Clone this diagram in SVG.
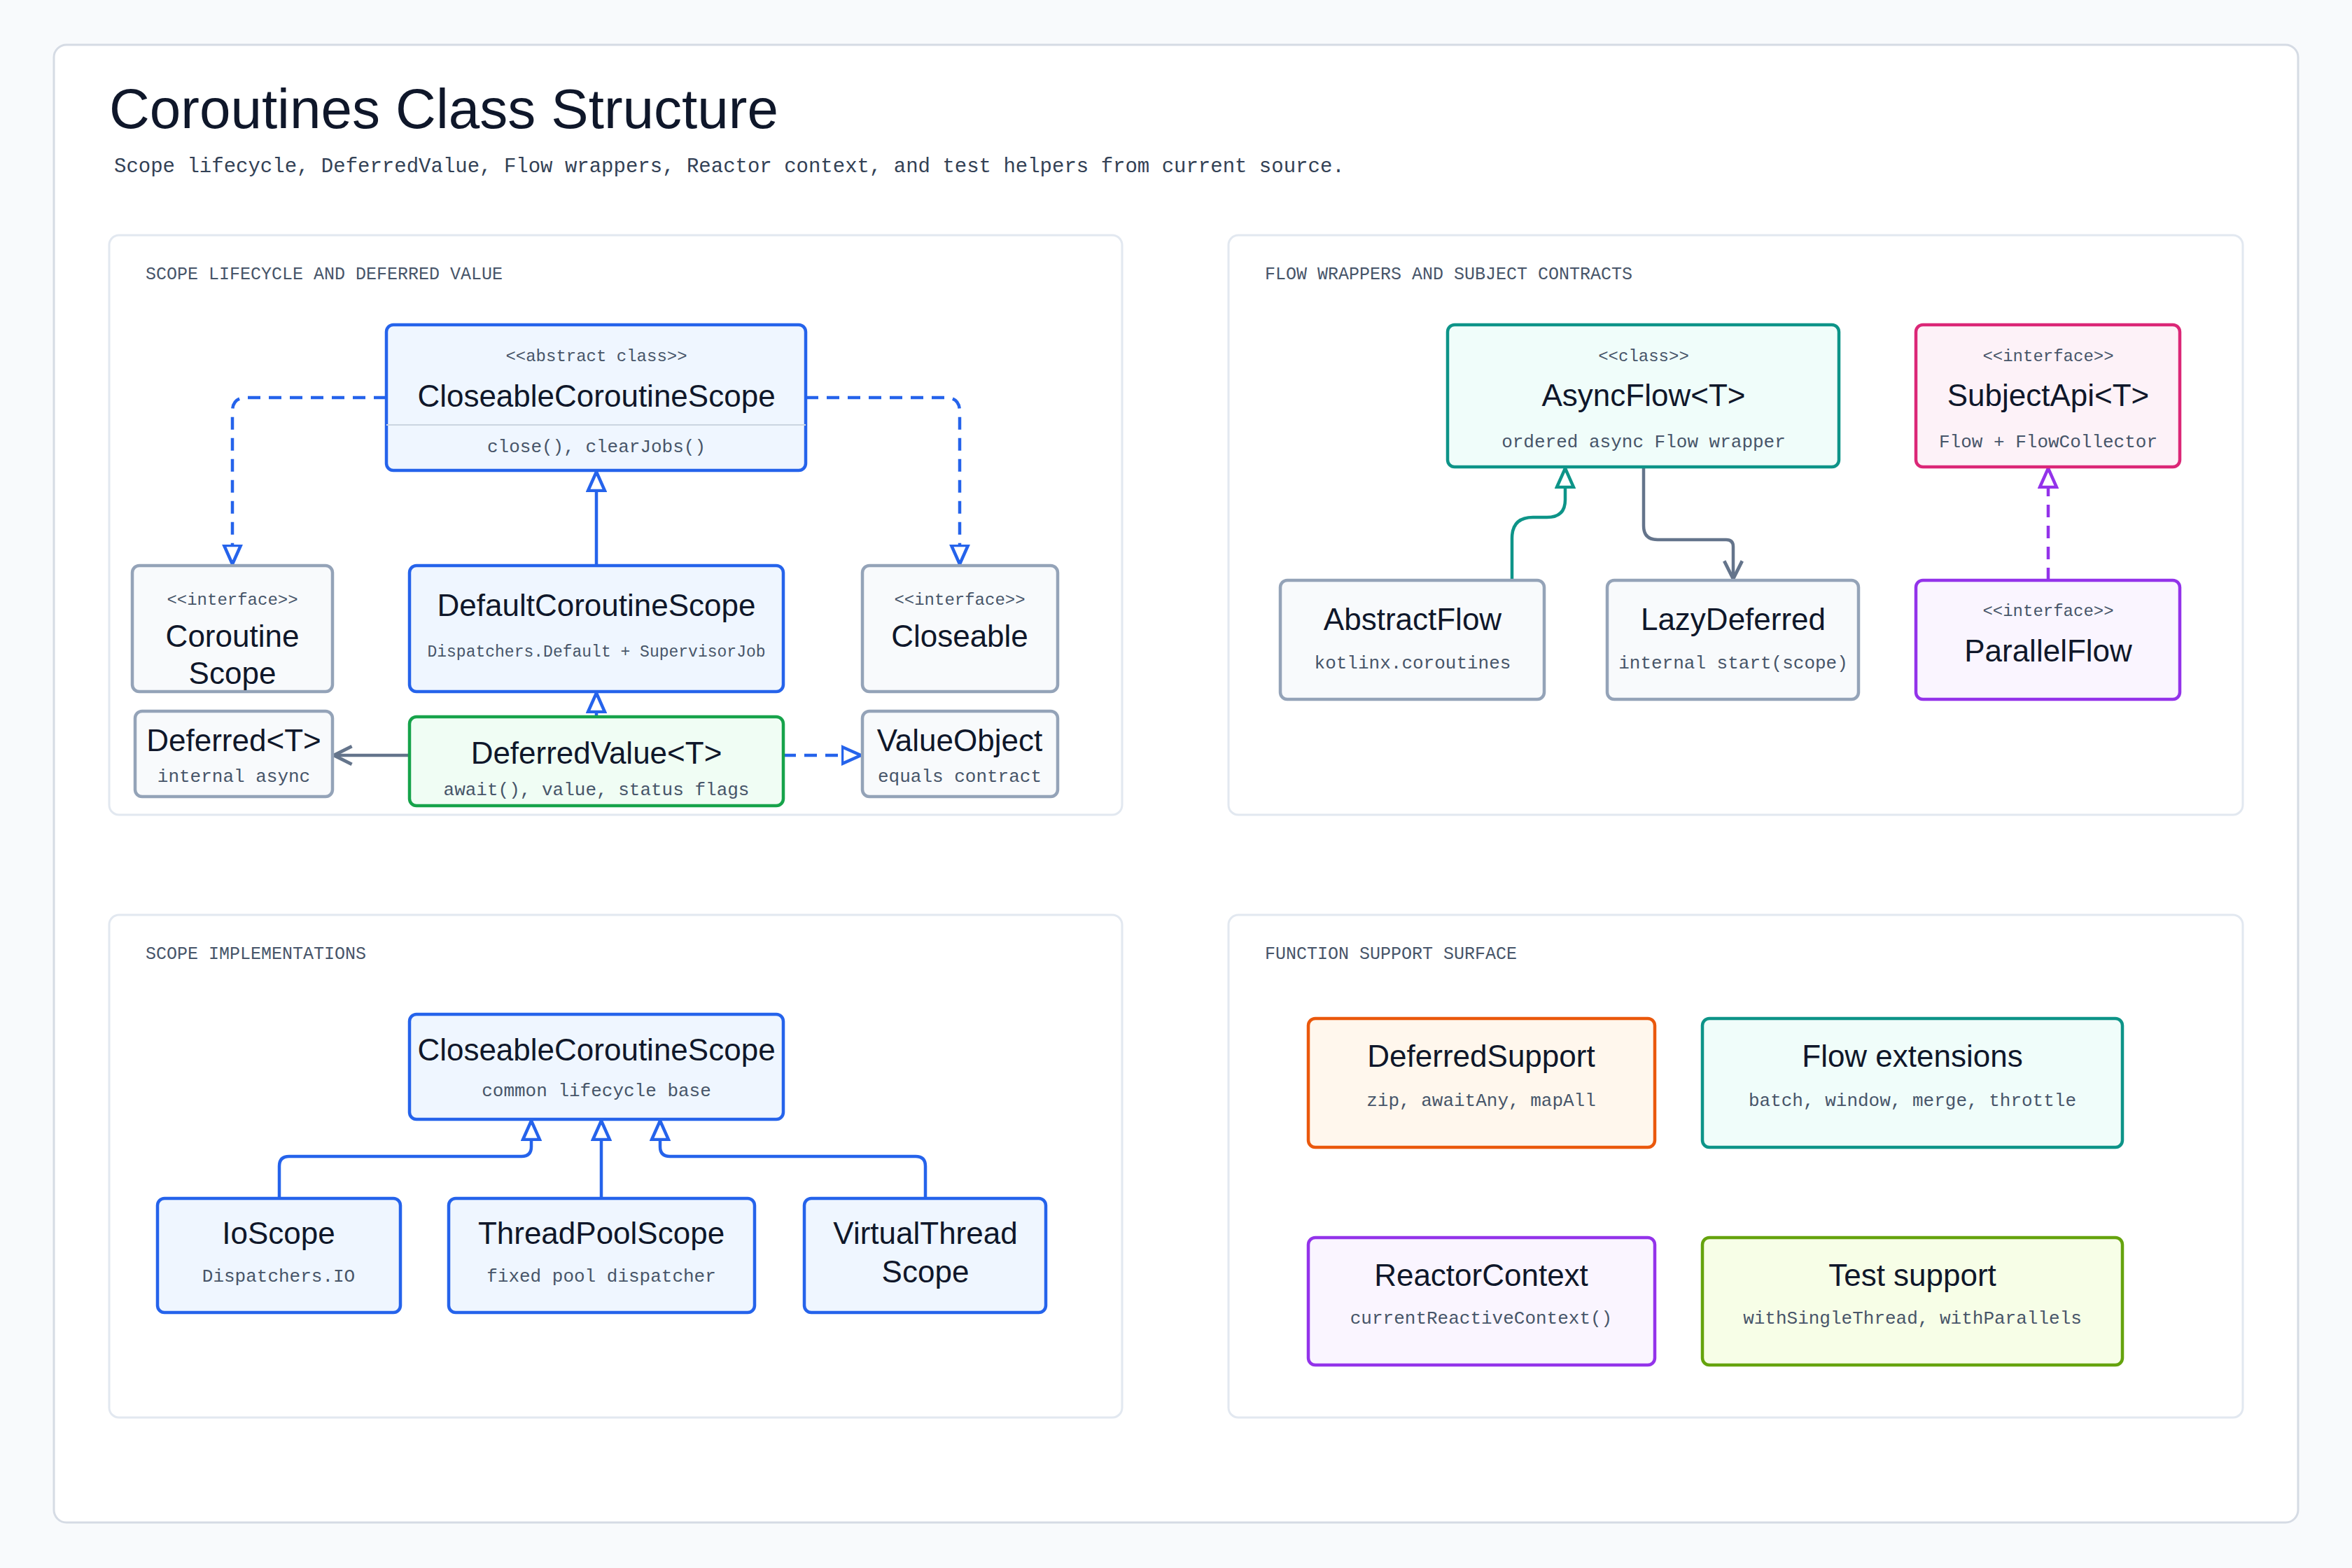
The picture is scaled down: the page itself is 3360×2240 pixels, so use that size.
<svg xmlns="http://www.w3.org/2000/svg" width="3360" height="2240" viewBox="0 0 3360 2240">
<style>
.bg{fill:#f8fafc}
.frame{fill:#fff;stroke:#d5dbe4;stroke-width:3}
.panel{fill:#fff;stroke:#e2e8f0;stroke-width:3}
.title{font-family:"Liberation Sans",sans-serif;font-size:80px;fill:#0f172a}
.subtitle{font-family:"Liberation Mono",monospace;font-size:29px;fill:#334155}
.plabel{font-family:"Liberation Mono",monospace;font-size:25px;fill:#475569}
.n{font-family:"Liberation Sans",sans-serif;font-size:44px;fill:#0f172a;text-anchor:middle}
.s{font-family:"Liberation Mono",monospace;font-size:26px;fill:#475569;text-anchor:middle}
.st{font-family:"Liberation Mono",monospace;font-size:24px;fill:#475569;text-anchor:middle}
.blue{fill:#eff6ff;stroke:#2563eb;stroke-width:4.5}
.gray{fill:#f8fafc;stroke:#94a3b8;stroke-width:4.5}
.green{fill:#f0fdf4;stroke:#16a34a;stroke-width:4.5}
.teal{fill:#f0fdfa;stroke:#0d9488;stroke-width:4.5}
.pink{fill:#fdf2f8;stroke:#db2777;stroke-width:4.5}
.purple{fill:#faf5ff;stroke:#9333ea;stroke-width:4.5}
.orange{fill:#fff7ed;stroke:#ea580c;stroke-width:4.5}
.lime{fill:#f7fee7;stroke:#65a30d;stroke-width:4.5}
.c{fill:none;stroke-width:4.5}
.dash{stroke-dasharray:18 12}
</style>
<defs>
<marker id="triB" viewBox="0 0 20 20" refX="19" refY="10" markerWidth="30" markerHeight="30" markerUnits="userSpaceOnUse" orient="auto"><path d="M1,2 L19,10 L1,18 Z" fill="#fff" stroke="#2563eb" stroke-width="3"/></marker>
<marker id="triT" viewBox="0 0 20 20" refX="19" refY="10" markerWidth="30" markerHeight="30" markerUnits="userSpaceOnUse" orient="auto"><path d="M1,2 L19,10 L1,18 Z" fill="#fff" stroke="#0d9488" stroke-width="3"/></marker>
<marker id="triP" viewBox="0 0 20 20" refX="19" refY="10" markerWidth="30" markerHeight="30" markerUnits="userSpaceOnUse" orient="auto"><path d="M1,2 L19,10 L1,18 Z" fill="#fff" stroke="#9333ea" stroke-width="3"/></marker>
<marker id="openG" viewBox="0 0 20 20" refX="18" refY="10" markerWidth="32" markerHeight="32" markerUnits="userSpaceOnUse" orient="auto"><path d="M2,2 L18,10 L2,18" fill="none" stroke="#64748b" stroke-width="3"/></marker>
</defs>
<rect class="bg" width="3360" height="2240"/>
<rect class="frame" x="77" y="64" width="3206" height="2111" rx="18"/>
<text class="title" x="156" y="183">Coroutines Class Structure</text>
<text class="subtitle" x="163" y="246">Scope lifecycle, DeferredValue, Flow wrappers, Reactor context, and test helpers from current source.</text>

<rect class="panel" x="156" y="336" width="1447" height="828" rx="14"/>
<rect class="panel" x="1755" y="336" width="1449" height="828" rx="14"/>
<rect class="panel" x="156" y="1307" width="1447" height="718" rx="14"/>
<rect class="panel" x="1755" y="1307" width="1449" height="718" rx="14"/>
<text class="plabel" x="208" y="399">SCOPE LIFECYCLE AND DEFERRED VALUE</text>
<text class="plabel" x="1807" y="399">FLOW WRAPPERS AND SUBJECT CONTRACTS</text>
<text class="plabel" x="208" y="1370">SCOPE IMPLEMENTATIONS</text>
<text class="plabel" x="1807" y="1370">FUNCTION SUPPORT SURFACE</text>

<g id="connectors">
<path class="c dash" stroke="#2563eb" d="M552,568 H352 Q332,568 332,588 V806" marker-end="url(#triB)"/>
<path class="c dash" stroke="#2563eb" d="M1151,568 H1351 Q1371,568 1371,588 V806" marker-end="url(#triB)"/>
<path class="c" stroke="#2563eb" d="M852,808 V674" marker-end="url(#triB)"/>
<path class="c" stroke="#2563eb" d="M852,1024 V990" marker-end="url(#triB)"/>
<path class="c" stroke="#64748b" d="M585,1079 H477" marker-end="url(#openG)"/>
<path class="c dash" stroke="#2563eb" d="M1119,1079 H1230" marker-end="url(#triB)"/>
<path class="c" stroke="#0d9488" d="M2160,829 V769 Q2160,739 2190,739 H2210 Q2236,739 2236,714 V669" marker-end="url(#triT)"/>
<path class="c" stroke="#64748b" d="M2348,667 V751 Q2348,771 2368,771 H2466 Q2476,771 2476,781 V827" marker-end="url(#openG)"/>
<path class="c dash" stroke="#9333ea" d="M2926,829 V669" marker-end="url(#triP)"/>
<path class="c" stroke="#2563eb" d="M399,1712 V1666 Q399,1652 413,1652 H745 Q759,1652 759,1638 V1601" marker-end="url(#triB)"/>
<path class="c" stroke="#2563eb" d="M859,1712 V1601" marker-end="url(#triB)"/>
<path class="c" stroke="#2563eb" d="M1322,1712 V1666 Q1322,1652 1308,1652 H957 Q943,1652 943,1638 V1601" marker-end="url(#triB)"/>
</g>

<g id="closeableCoroutineScope"><rect class="blue" x="552" y="464" width="599" height="208" rx="10"/><line x1="552" y1="607" x2="1151" y2="607" stroke="#cbd5e1" stroke-width="2"/><text class="st" x="852" y="516">&lt;&lt;abstract class&gt;&gt;</text><text class="n" x="852" y="581">CloseableCoroutineScope</text><text class="s" x="852" y="646">close(), clearJobs()</text></g>
<g id="coroutineScope"><rect class="gray" x="189" y="808" width="286" height="180" rx="10"/><text class="st" x="332" y="864">&lt;&lt;interface&gt;&gt;</text><text class="n" x="332" y="924">Coroutine</text><text class="n" x="332" y="977">Scope</text></g>
<g id="defaultCoroutineScope"><rect class="blue" x="585" y="808" width="534" height="180" rx="10"/><text class="n" x="852" y="880">DefaultCoroutineScope</text><text class="s" x="852" y="938" style="font-size:23px">Dispatchers.Default + SupervisorJob</text></g>
<g id="closeable"><rect class="gray" x="1232" y="808" width="279" height="180" rx="10"/><text class="st" x="1371" y="864">&lt;&lt;interface&gt;&gt;</text><text class="n" x="1371" y="924">Closeable</text></g>
<g id="deferred"><rect class="gray" x="193" y="1016" width="282" height="122" rx="10"/><text class="n" x="334" y="1073">Deferred&lt;T&gt;</text><text class="s" x="334" y="1117">internal async</text></g>
<g id="deferredValue"><rect class="green" x="585" y="1024" width="534" height="127" rx="10"/><text class="n" x="852" y="1091">DeferredValue&lt;T&gt;</text><text class="s" x="852" y="1136">await(), value, status flags</text></g>
<g id="valueObject"><rect class="gray" x="1232" y="1016" width="279" height="122" rx="10"/><text class="n" x="1371" y="1073">ValueObject</text><text class="s" x="1371" y="1117">equals contract</text></g>

<g id="asyncFlow"><rect class="teal" x="2068" y="464" width="559" height="203" rx="10"/><text class="st" x="2348" y="516">&lt;&lt;class&gt;&gt;</text><text class="n" x="2348" y="580">AsyncFlow&lt;T&gt;</text><text class="s" x="2348" y="639">ordered async Flow wrapper</text></g>
<g id="subjectApi"><rect class="pink" x="2737" y="464" width="377" height="203" rx="10"/><text class="st" x="2926" y="516">&lt;&lt;interface&gt;&gt;</text><text class="n" x="2926" y="580">SubjectApi&lt;T&gt;</text><text class="s" x="2926" y="639">Flow + FlowCollector</text></g>
<g id="abstractFlow"><rect class="gray" x="1829" y="829" width="377" height="170" rx="10"/><text class="n" x="2018" y="900">AbstractFlow</text><text class="s" x="2018" y="955">kotlinx.coroutines</text></g>
<g id="lazyDeferred"><rect class="gray" x="2296" y="829" width="359" height="170" rx="10"/><text class="n" x="2476" y="900">LazyDeferred</text><text class="s" x="2476" y="955">internal start(scope)</text></g>
<g id="parallelFlow"><rect class="purple" x="2737" y="829" width="377" height="170" rx="10"/><text class="st" x="2926" y="880">&lt;&lt;interface&gt;&gt;</text><text class="n" x="2926" y="945">ParallelFlow</text></g>

<g id="closeableCoroutineScope2"><rect class="blue" x="585" y="1449" width="534" height="150" rx="10"/><text class="n" x="852" y="1515">CloseableCoroutineScope</text><text class="s" x="852" y="1566">common lifecycle base</text></g>
<g id="ioScope"><rect class="blue" x="225" y="1712" width="347" height="163" rx="10"/><text class="n" x="398" y="1777">IoScope</text><text class="s" x="398" y="1831">Dispatchers.IO</text></g>
<g id="threadPoolScope"><rect class="blue" x="641" y="1712" width="437" height="163" rx="10"/><text class="n" x="859" y="1777">ThreadPoolScope</text><text class="s" x="859" y="1831">fixed pool dispatcher</text></g>
<g id="virtualThreadScope"><rect class="blue" x="1149" y="1712" width="345" height="163" rx="10"/><text class="n" x="1322" y="1777">VirtualThread</text><text class="n" x="1322" y="1832">Scope</text></g>

<g id="deferredSupport"><rect class="orange" x="1869" y="1455" width="495" height="184" rx="10"/><text class="n" x="2116" y="1524">DeferredSupport</text><text class="s" x="2116" y="1580">zip, awaitAny, mapAll</text></g>
<g id="flowExtensions"><rect class="teal" x="2432" y="1455" width="600" height="184" rx="10"/><text class="n" x="2732" y="1524">Flow extensions</text><text class="s" x="2732" y="1580">batch, window, merge, throttle</text></g>
<g id="reactorContext"><rect class="purple" x="1869" y="1768" width="495" height="182" rx="10"/><text class="n" x="2116" y="1837">ReactorContext</text><text class="s" x="2116" y="1891">currentReactiveContext()</text></g>
<g id="testSupport"><rect class="lime" x="2432" y="1768" width="600" height="182" rx="10"/><text class="n" x="2732" y="1837">Test support</text><text class="s" x="2732" y="1891">withSingleThread, withParallels</text></g>
</svg>
